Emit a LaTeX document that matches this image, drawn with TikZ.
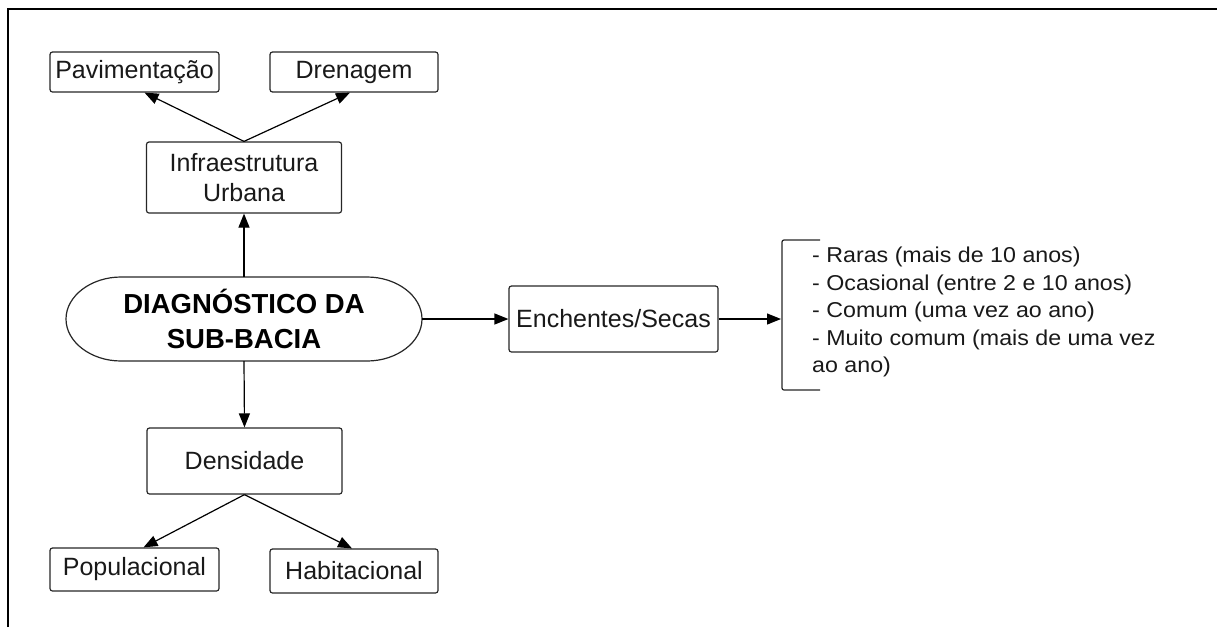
\documentclass[tikz,border=0pt]{standalone}
\usepackage{fontspec}
\setmainfont{Liberation Sans}
\newfontfamily\listfont[FakeStretch=1.08]{Liberation Sans}
\usetikzlibrary{arrows.meta,calc}
\tikzset{
  box/.style={draw=black!85, line width=1.2pt, rounded corners=2.5pt, inner sep=0pt,
    font=\fontsize{25}{30}\selectfont, align=center, text=black!90},
  arr/.style={-{Triangle[length=14pt,width=11pt]}, line width=1.2pt, draw=black},
}
\begin{document}
\begin{tikzpicture}[x=1pt,y=-1pt]
\useasboundingbox (0,0) rectangle (1217,627);
% frame
\draw[line width=2.8pt] (8,627) -- (8,9) -- (1217,9);
% nodes
\node[box, minimum width=169pt, minimum height=40pt] (pav) at (134.5,72) {Pavimentação};
\node[box, minimum width=168pt, minimum height=40pt] (dren) at (354,72) {Drenagem};
\node[box, minimum width=195pt, minimum height=71pt] (infra) at (244,177.5) {Infraestrutura\\Urbana};
\node[inner sep=0pt, minimum width=356pt, minimum height=84pt, align=center,
  font=\fontsize{27.5}{35}\selectfont\bfseries] (diag) at (244,319) {DIAGNÓSTICO DA\\SUB-BACIA};
\draw[line width=1.2pt, draw=black!85]
  (121,277) -- (367,277) .. controls (397,277) and (422,296) .. (422,319)
  .. controls (422,342) and (397,361) .. (367,361) -- (121,361)
  .. controls (91,361) and (66,342) .. (66,319)
  .. controls (66,296) and (91,277) .. (121,277) -- cycle;
\node[box, minimum width=195pt, minimum height=66pt] (dens) at (244.5,461) {Densidade};
\node[box, minimum width=169pt, minimum height=43pt] (pop) at (134.5,569.5) {Populacional};
\node[box, minimum width=168pt, minimum height=44pt] (hab) at (354,571) {Habitacional};
\node[box, minimum width=209pt, minimum height=66pt] (ench) at (613.5,319) {Enchentes/Secas};
% bracket
\coordinate (brk) at (781,319);
\draw[line width=1.2pt, draw=black!85, rounded corners=2pt] (820,240) -- (782,240) -- (782,390) -- (820,390);
\node[anchor=north west, inner sep=0pt, align=left, text=black!90,
  font=\listfont\fontsize{21.5}{27.5}\selectfont] (list) at (812,247)
  {- Raras (mais de 10 anos)\\- Ocasional (entre 2 e 10 anos)\\- Comum (uma vez ao ano)\\- Muito comum (mais de uma vez\\ao ano)};
% connectors
\draw[arr] (infra.north) -- ($(pav.south)+(10,0)$);
\draw[arr] (infra.north) -- ($(dren.south)+(-4,0)$);
\draw[arr] (diag.north) -- (infra.south);
\draw[arr] (diag.south) -- (dens.north);
\draw[arr] (dens.south) -- ($(pop.north)+(9,0)$);
\draw[arr] (dens.south) -- ($(hab.north)+(-2,0)$);
\draw[arr] (diag.east) -- (ench.west);
\draw[arr] (ench.east) -- (brk);
\end{tikzpicture}
\end{document}
